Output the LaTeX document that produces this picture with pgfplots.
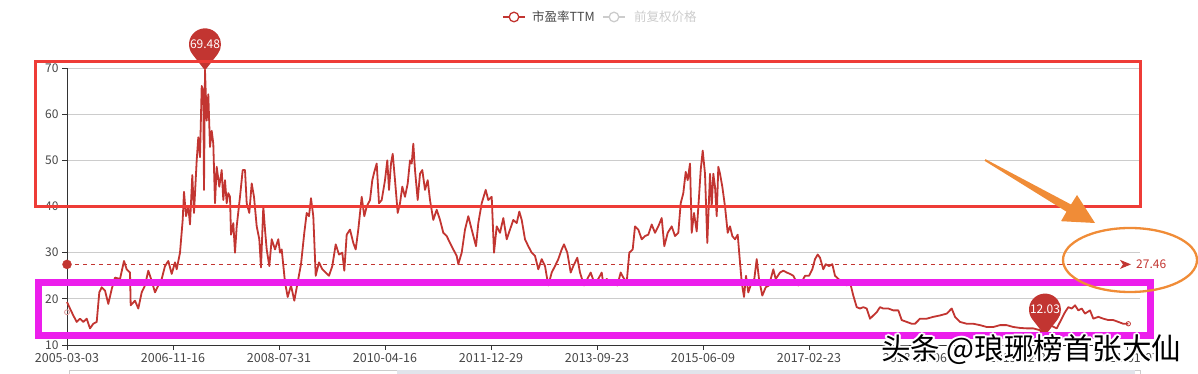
\documentclass[border=0pt]{standalone}
\usepackage{pgfplots}
\pgfplotsset{compat=1.18}
\usetikzlibrary{arrows.meta}
\usepackage{fontspec}
\setmainfont{Noto Sans CJK SC}
\definecolor{lineRed}{RGB}{194,53,49}
\definecolor{annotRed}{RGB}{238,60,55}
\definecolor{magentaBox}{RGB}{236,30,236}
\definecolor{orangeA}{RGB}{240,140,55}
\definecolor{gridGray}{RGB}{204,204,204}
\definecolor{textGray}{RGB}{70,70,70}
\definecolor{axisBlack}{RGB}{51,51,51}
\definecolor{legGray}{RGB}{204,204,204}
\definecolor{pinkMark}{RGB}{220,150,150}
\definecolor{sliderFill}{RGB}{225,228,235}
\newcommand\fs[1]{\fontsize{#1}{#1}\selectfont}
\begin{document}
\begin{tikzpicture}[x=1pt,y=1pt]
\useasboundingbox (0,0) rectangle (1198,374);
\begin{axis}[at={(67pt,29pt)}, anchor=south west, scale only axis,
  width=1073pt, height=277pt, xmin=0, xmax=1073, ymin=10, ymax=70,
  axis x line*=bottom, axis y line*=left,
  axis line style={color=axisBlack, line width=0.8pt, -},
  xtick={0,106,...,1060},
  xticklabels={2005-03-03,2006-11-16,2008-07-31,2010-04-16,2011-12-29,2013-09-23,2015-06-09,2017-02-23,2018-11-06,2019-12-20,2021-01-07},
  ytick={10,20,...,70},
  ymajorgrids, grid style={gridGray, line width=0.8pt},
  tick align=outside, major tick length=5pt,
  tick style={axisBlack, line width=0.8pt},
  xticklabel style={font=\fs{12.5}, text=textGray},
  yticklabel style={font=\fs{12}, text=textGray},
  /pgf/number format/assume math mode=true,
  clip=false]
\addplot[lineRed, line width=1.8pt, line join=round] coordinates {
(0,19.3)(3,17.9)(6.3,16.4)(9.7,15)(13,15.7)(16.3,15)(19.7,15.7)(23,13.6)(26.3,14.6)(29.7,15)(32.3,21.4)(34.7,22.5)(38,21.8)(41.3,18.9)(44.7,22.1)(48,24.6)(53,24.3)(57,28.2)(59.7,26.4)(63,25.7)(63.7,18.6)(68,19.6)(71.3,17.9)(74.7,21.4)(78,22.9)(81.3,26.1)(84.7,23.9)(88,21.4)(91.3,22.9)(94.7,24.3)(98,27.1)(101.3,28.2)(104.7,25.4)(108,27.9)(109.7,26.4)(113,30)(115.7,37.1)(117,43.2)(119,37.9)(121.3,40)(123,36.1)(125.3,46.8)(127,38.6)(129.7,50)(131.3,55)(133,50.7)(134.7,66.1)(136.3,65)(137,43.6)(138,69.48)(139.7,58.6)(141.3,64.3)(143,52.9)(144.7,56.4)(146.3,53.6)(148,40.7)(149.7,48.6)(152.3,44.3)(154.7,47.9)(156.3,41.4)(158,45.7)(159.7,40.7)(161.3,42.9)(163,42.1)(164,33.9)(166.3,36.4)(168,30)(169.7,35.7)(173,42.1)(175.7,47.9)(178,47.9)(179.7,40.7)(182.3,38.6)(184.7,45)(187,42.1)(189.7,35.7)(192.3,32.9)(194,26.8)(196.3,40)(198,35)(199.7,30.7)(202.3,27.1)(204.7,32.9)(208,30.7)(211.3,32.9)(213,30)
(214.7,30.7)(218,23.6)(220.7,20.4)(224,22.9)(227.3,19.6)(230.7,23.6)(234,27.5)(237.3,34.3)(239.7,38.6)(242,37.9)(244,41.8)(246.3,37.9)(248.7,25)(252,27.9)(255.3,26.4)(258.7,25.7)(262,25)(265.3,27.1)(268.7,31.8)(272,29.6)(275.3,30)(277.3,26.1)(279.7,33.9)(283,35)(286.3,32.1)(288.7,30.7)(291.3,35)(294.7,42.1)(297.3,37.9)(299.7,40)(303,41.4)(305.3,45.7)(307.3,47.5)(309.7,49.3)(312,40.7)(314.7,41.4)(318,45.7)(320.3,50)(322,43.6)(324,49.3)(325.7,51.4)(328,45.7)(330.7,38.6)(333,40.7)(335.3,44.3)(338,42.1)(340.7,45)(343,50)(344.7,49.3)(346.3,53.6)(348,47.9)(350.7,41.4)(353,47.1)(355.3,47.9)(358,43.6)(360.7,45.7)(363,41.4)(366.3,37.1)(369.7,39.3)(373,37.1)(376.3,34.3)(379.7,33.6)(383,32.1)(386.3,30.7)(389.7,29.3)(391.3,27.5)(394.7,30)(398,35)(401.3,37.9)(404.7,35)(409,31.4)(411.3,36.4)(414.7,40.7)(418.7,43.6)(421.3,41.4)(424.7,42.1)(427,30)
(429.7,35.7)(433,34.3)(436.3,37.5)(439.7,32.9)(443,35)(446.3,37.1)(449.7,36.4)(452.3,38.9)(454.7,37.1)(458,32.9)(461.3,31.4)(464.7,30)(468,29.3)(471.3,26.4)(474.7,28.6)(478,27.1)(481.3,22.9)(484.7,25.7)(488,27.1)(491.3,28.6)(494.7,30.7)(497,31.8)(500.3,30)(503.7,25.7)(506.3,27.1)(510.3,28.9)(513,25.7)(517,22.9)(520.3,24.3)(523.7,25.7)(527,23.6)(531.3,24.3)(534.7,25.7)(536.3,23.2)(539.7,24.3)(543,23.6)(547,23.6)(550.3,22.9)(553.7,25.7)(556.3,24.6)(559.7,23.6)(562.3,30)(565.7,30.7)(568,35.7)(571.3,35)(574.7,32.9)(578,33.6)(581.3,33.9)(584.7,36.1)(588,34.3)(591.3,35.7)(594.7,37.5)(597.3,31.4)(600.7,34.3)(604.7,35.7)(608,33.6)(611.3,34.3)(613.7,40.7)(616.3,42.9)(618.7,47.5)(620.7,45.7)(623,49.3)(624.7,34.3)(627,38.6)(629.7,34.6)(632,42.1)(633.7,47.9)(635.7,52.1)(638,47.1)(640.3,32.1)(643,47.1)
(644.7,40)(646.3,47.1)(648,44.3)(649.7,37.9)(651.3,48.6)(653,47.1)(655.3,44.3)(658,40)(660.7,34.3)(663,35.7)(665.3,33.6)(668,32.9)(670.7,33.9)(673,27.9)(674.7,23.6)(677,20.4)(679,25)(681.3,21.4)(684.7,23.6)(687.3,24.3)(689.7,28.6)(692,24.3)(695.3,20.7)(698.7,22.5)(702,22.9)(706.3,26.4)(708.7,24.3)(713,25.7)(716.3,26.1)(719.7,25.7)(723,25.4)(726.3,25)(731.3,22.9)(734.7,23.6)(738,25)(742,25)(745.3,26.4)(748,28.6)(750.7,29.6)(753,28.9)(756.3,26.4)(758.7,27.5)(762,27.1)(765.3,27.5)(768,25)(771.3,24.3)(776.3,23.6)(779.7,22.9)(783,23.6)(786.3,20.7)(789.7,18.2)(793,17.9)(796.3,18.2)(799.7,17.9)(803,15.7)(806.3,16.4)(809.7,17.1)(813,18.2)(816.3,17.9)(821.3,17.9)(826.3,17.5)(831.3,17.5)(834.7,15.4)(839.7,15)(844.7,14.6)(848,14.6)(853,15.7)(858,15.7)
(859.7,15.7)(866.3,16.1)(873,16.4)(879.7,16.8)(884.7,17.9)(888,16.1)(893,15)(899.7,14.6)(906.3,14.6)(913,14.3)(919.7,13.9)(926.3,13.9)(933,14.3)(939.7,14.3)(946.3,13.9)(953,13.7)(959.7,13.6)(966.3,13.6)(973,13.2)(978,12.03)(983,14.3)(989.7,13.6)(994.7,15.7)(998,17.1)(1001.3,18.2)(1004.7,17.9)(1008,18.6)(1011.3,17.5)(1014.7,17.9)(1018,16.8)(1023,17.5)(1026.3,15.7)(1031.3,16.1)(1036.3,15.7)(1041.3,15.4)(1046.3,15.4)(1051.3,15)(1056.3,14.6)(1061.3,14.6)
};
\addplot[only marks, mark=o, mark size=2.2pt, lineRed, mark options={fill=white, line width=0.8pt}] coordinates {(1061.3,14.6)};
\addplot[only marks, mark=o, mark size=2.5pt, pinkMark, mark options={fill=white, line width=0.8pt}] coordinates {(0,17.1)};
\addplot[lineRed, line width=0.9pt, dash pattern=on 4pt off 4pt, -{Stealth[length=11pt,width=9pt,inset=3pt]}] coordinates {(0,27.46)(1064,27.46)};
\addplot[only marks, mark=*, mark size=4.5pt, lineRed] coordinates {(0,27.46)};
\node[anchor=west, text=lineRed, font=\fs{12}, inner sep=0pt] at (axis cs:1069,27.46) {27.46};
\coordinate (pmax) at (axis cs:138,69.48);
\coordinate (pmin) at (axis cs:978,12.03);
\end{axis}
\foreach \p/\t in {pmax/69.48, pmin/12.03}{
  \fill[lineRed, shift={(\p)}] (0,0) -- (-12.6,16.2) arc[start angle=218, end angle=-38, radius=16] -- cycle;
  \node[text=white, font=\fs{12}, inner sep=0pt] at ([yshift=26pt]\p) {\t};
}
\draw[annotRed, line width=3pt] (35,167) rectangle (1140,312.5);
\draw[magentaBox, line width=7pt] (38,38) rectangle (1150,91);
\fill[orangeA] (985.5,214.8) -- (1071,169.5) -- (1077,179) -- (1095,151) -- (1061,152.8) -- (1066.5,162.3) -- (984.5,213.2) -- cycle;
\draw[orangeA, line width=2.3pt] (1130,114) ellipse [x radius=67, y radius=32];
\draw[lineRed, line width=1.5pt] (503,357) -- (525,357);
\draw[lineRed, line width=1.3pt, fill=white] (514,357) circle (4.8);
\node[anchor=west, inner sep=0pt, text=textGray, font=\fs{12.5}] at (532,357) {市盈率TTM};
\draw[legGray, line width=1.5pt] (603,357) -- (625,357);
\draw[legGray, line width=1.3pt, fill=white] (614,357) circle (4.8);
\node[anchor=west, inner sep=0pt, text=legGray, font=\fs{12.5}] at (634,357) {前复权价格};
\draw[gridGray, line width=0.6pt, fill=white] (69,-1) rectangle (1140,4);
\fill[sliderFill] (397,-1) rectangle (1135,3.7);
\foreach \a in {0,30,...,330}{
  \node[text=white, font=\fs{29.5}, inner sep=0pt, shift={(\a:2pt)}] at (1031,24) {头条 @琅琊榜首张大仙};
}
\node[text=black, font=\fs{29.5}, inner sep=0pt] at (1031,24) {头条 @琅琊榜首张大仙};
\end{tikzpicture}
\end{document}
